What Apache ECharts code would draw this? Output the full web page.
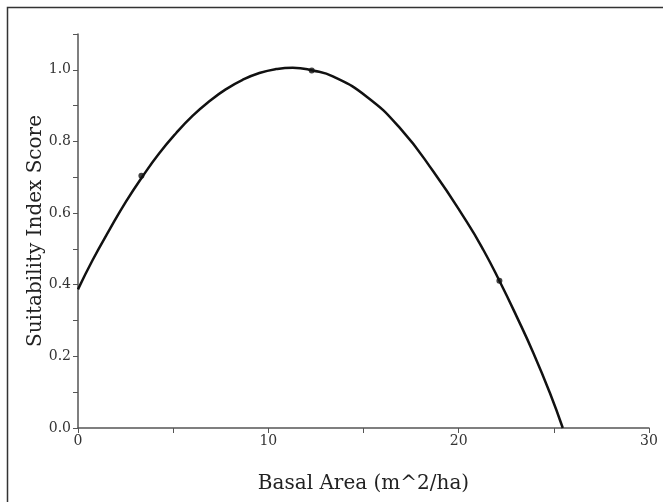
<!DOCTYPE html>
<html>
<head>
<meta charset="utf-8">
<script src="https://cdn.jsdelivr.net/npm/echarts@6/dist/echarts.min.js"></script>
<style>
  html, body { margin: 0; padding: 0; background: #fff; }
  #chart { width: 663px; height: 502px; }
</style>
</head>
<body>
<div id="chart"></div>
<script>
// curve (basal area, score)
const curveX = [0, 0.77, 1.65, 2.52, 3.40, 4.27, 5.15, 6.03, 6.90, 7.78, 8.65, 9.53, 10.40, 11.28, 12.33, 13.42, 15.17, 16.92, 18.67, 20.42, 21.3, 22.14, 23.05, 23.93, 24.8, 25.47]
const curveY = [0.387, 0.469, 0.553, 0.632, 0.703, 0.767, 0.823, 0.872, 0.912, 0.946, 0.972, 0.991, 1.002, 1.006, 0.998, 0.981, 0.925, 0.837, 0.716, 0.576, 0.497, 0.411, 0.311, 0.209, 0.097, 0.0]
// dots on the curve
const dotX = [3.33, 12.28, 22.14]
const dotY = [0.704, 0.998, 0.411]

const xLabels = [0, 10, 20, 30]
const yLabels = [0.0, 0.2, 0.4, 0.6, 0.8, 1.0]

const curve = curveX.map((x, i) => [x, curveY[i]])
const dots = dotX.map((x, i) => [x, dotY[i]])

const axisColor = '#555'
const font = 'DejaVu Serif'

const myChart = echarts.init(document.getElementById('chart'))
myChart.setOption({
    animation: false,
    backgroundColor: '#fff',
    graphic: [{
        type: 'rect',
        shape: { x: 7.5, y: 7.5, width: 700, height: 600 },
        style: { fill: 'none', stroke: '#333', lineWidth: 1.5 }
    }],
    grid: { left: 78, right: 14, top: 34, bottom: 74 },
    xAxis: {
        type: 'value',
        min: 0,
        max: 30,
        interval: 5,
        name: 'Basal Area (m^2/ha)',
        nameLocation: 'middle',
        nameGap: 46,
        nameMoveOverlap: false,
        nameTextStyle: { fontFamily: font, fontSize: 20, color: '#222' },
        axisLine: { show: true, lineStyle: { color: axisColor, width: 1.5 } },
        axisTick: { show: true, length: 5, lineStyle: { color: axisColor } },
        axisLabel: {
            fontFamily: font, fontSize: 14, color: '#333', margin: 6,
            formatter: v => xLabels.includes(v) ? String(v) : ''
        },
        splitLine: { show: false }
    },
    yAxis: {
        type: 'value',
        min: 0,
        max: 1.1,
        interval: 0.1,
        name: 'Suitability Index Score',
        nameLocation: 'middle',
        nameGap: 32,
        nameMoveOverlap: false,
        nameTextStyle: { fontFamily: font, fontSize: 20, color: '#222' },
        axisLine: { show: true, lineStyle: { color: axisColor, width: 1.5 } },
        axisTick: { show: true, length: 5, lineStyle: { color: axisColor } },
        axisLabel: {
            fontFamily: font, fontSize: 14, color: '#333', margin: 7,
            formatter: v => {
                const hit = yLabels.find(l => Math.abs(l - v) < 1e-6)
                return hit === undefined ? '' : hit.toFixed(1)
            }
        },
        splitLine: { show: false }
    },
    series: [
        {
            type: 'line',
            data: curve,
            smooth: true,
            showSymbol: false,
            lineStyle: { color: '#111', width: 2.5 }
        },
        {
            type: 'scatter',
            data: dots,
            symbolSize: 6,
            itemStyle: { color: '#111' }
        }
    ]
})
</script>
</body>
</html>
